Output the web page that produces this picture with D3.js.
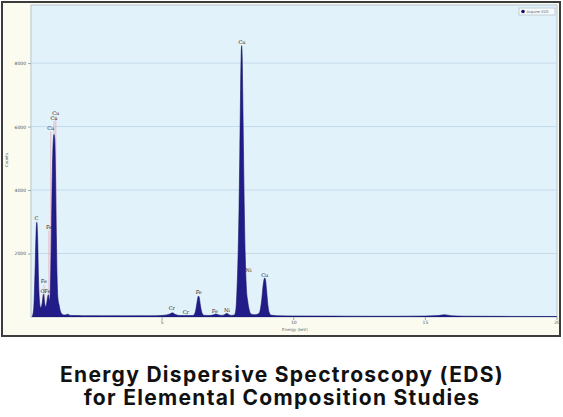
<!DOCTYPE html>
<html>
<head>
<meta charset="utf-8">
<script src="https://cdn.jsdelivr.net/npm/d3@7"></script>
<style>
  body { margin:0; background:#ffffff; }
  svg { display:block; }
</style>
</head>
<body>
<div id="chart-area"></div>
<script>
// spectrum (energy in keV, counts)
var energy = [0.08, 0.14, 0.19, 0.23, 0.26, 0.29, 0.32, 0.36, 0.40, 0.45, 0.49, 0.52, 0.55, 0.59, 0.63, 0.67, 0.70, 0.73, 0.76, 0.79, 0.82, 0.85, 0.88, 0.91, 0.94, 0.97, 1.00, 1.03, 1.06, 1.10, 1.15, 1.22, 1.32, 1.44, 1.52, 1.70, 2.00, 2.40, 2.80, 3.20, 3.60, 4.00, 4.40, 4.80, 5.10, 5.30, 5.41, 5.52, 5.70, 5.88, 5.95, 6.02, 6.20, 6.27, 6.33, 6.37, 6.40, 6.43, 6.47, 6.53, 6.60, 6.80, 6.98, 7.06, 7.14, 7.30, 7.42, 7.48, 7.54, 7.66, 7.76, 7.82, 7.86, 7.90, 7.94, 7.97, 8.00, 8.02, 8.04, 8.06, 8.08, 8.11, 8.14, 8.18, 8.22, 8.27, 8.32, 8.40, 8.55, 8.70, 8.76, 8.81, 8.85, 8.89, 8.92, 8.95, 8.99, 9.03, 9.08, 9.15, 9.40, 10.0, 11.0, 12.0, 13.0, 14.0, 15.0, 15.5, 15.75, 16.0, 16.5, 17.5, 18.5, 19.5, 20.0];
var counts = [0, 250, 1400, 2600, 2980, 2500, 1300, 500, 300, 380, 600, 720, 480, 320, 420, 620, 700, 520, 620, 1500, 3000, 4600, 5500, 5750, 5600, 4500, 2600, 1200, 600, 400, 200, 90, 60, 90, 50, 45, 40, 42, 38, 40, 36, 40, 38, 40, 55, 90, 130, 80, 45, 45, 55, 45, 50, 130, 380, 590, 660, 610, 380, 140, 55, 45, 70, 95, 70, 50, 90, 115, 80, 50, 60, 220, 800, 1800, 3400, 5200, 7200, 8200, 8550, 8200, 7100, 5200, 3400, 1800, 900, 500, 250, 90, 70, 110, 280, 600, 950, 1180, 1230, 1150, 800, 420, 160, 60, 40, 32, 30, 26, 24, 24, 30, 45, 70, 40, 26, 22, 18, 16, 15];

// peak labels: element, energy, counts
var labelEl = ["C", "Fe", "O", "Fe", "Fe", "Cu", "Cu", "Cu", "Cr", "Cr", "Fe", "Fe", "Ni", "Cu", "Ni", "Cu"];
var labelE  = [0.24, 0.53, 0.48, 0.66, 0.72, 0.79, 0.91, 0.98, 5.39, 5.92, 6.41, 7.02, 7.48, 8.05, 8.30, 8.92];
var labelC  = [3100, 1100, 800, 800, 2820, 5930, 6260, 6410, 270, 140, 770, 170, 200, 8650, 1460, 1300];
var markerIdx = [0, 1, 2, 3, 4, 5, 6, 7];

var yTicks = [2000, 4000, 6000, 8000];
var xTicks = [5, 10, 15, 20];

var W = 563, H = 417;
var plot = { left:31, right:557, top:5, bottom:317 };

var svg = d3.select("#chart-area").append("svg")
    .attr("width", W).attr("height", H);

// outer frame
svg.append("rect")
    .attr("x", 2).attr("y", 2).attr("width", 558).attr("height", 334)
    .attr("fill", "#fbfbf0").attr("stroke", "#3c3c3c").attr("stroke-width", 2);

var x = d3.scaleLinear().domain([0, 20]).range([30, 556.5]);
var y = d3.scaleLinear().domain([0, 9830]).range([plot.bottom, plot.top]);

svg.append("rect")
    .attr("x", plot.left).attr("y", plot.top)
    .attr("width", plot.right - plot.left).attr("height", plot.bottom - plot.top)
    .attr("fill", "#e2f2fb").attr("stroke", "#b4c6d2").attr("stroke-width", 1);

svg.append("clipPath").attr("id", "clip").append("rect")
    .attr("x", plot.left).attr("y", plot.top)
    .attr("width", plot.right - plot.left).attr("height", plot.bottom - plot.top);

// gridlines + y axis
var yAxis = svg.append("g")
    .attr("transform", "translate(" + plot.left + ",0)")
    .call(d3.axisLeft(y).tickValues(yTicks).tickFormat(d3.format("d")).tickSize(3).tickPadding(2));
yAxis.select(".domain").remove();
yAxis.selectAll("line").attr("stroke", "#9aa");
yAxis.selectAll("text").attr("font-size", "4.5px").attr("fill", "#555")
    .attr("font-family", "DejaVu Sans, sans-serif");

svg.append("g").selectAll("line").data(yTicks).enter().append("line")
    .attr("x1", plot.left).attr("x2", plot.right)
    .attr("y1", function(d){ return y(d); }).attr("y2", function(d){ return y(d); })
    .attr("stroke", "#c3dbea").attr("stroke-width", 1);

// x axis
var xAxis = svg.append("g")
    .attr("transform", "translate(0," + plot.bottom + ")")
    .call(d3.axisBottom(x).tickValues(xTicks).tickFormat(d3.format("d")).tickSize(3).tickPadding(1));
xAxis.select(".domain").remove();
xAxis.selectAll("line").attr("stroke", "#9aa");
xAxis.selectAll("text").attr("font-size", "4.5px").attr("fill", "#555")
    .attr("font-family", "DejaVu Sans, sans-serif");

svg.append("text")
    .attr("x", 295).attr("y", 331)
    .attr("text-anchor", "middle")
    .attr("font-size", "4px").attr("fill", "#666")
    .attr("font-family", "DejaVu Sans, sans-serif")
    .text("Energy (keV)");

svg.append("text")
    .attr("transform", "translate(8,160) rotate(-90)")
    .attr("text-anchor", "middle")
    .attr("font-size", "4px").attr("fill", "#666")
    .attr("font-family", "DejaVu Sans, sans-serif")
    .text("Counts");

// marker lines for the low-energy peaks
var gPlot = svg.append("g").attr("clip-path", "url(#clip)");

gPlot.selectAll(".marker").data(markerIdx).enter().append("line")
    .attr("class", "marker")
    .attr("x1", function(i){ return x(labelE[i]); })
    .attr("x2", function(i){ return x(labelE[i]); })
    .attr("y1", function(i){ return y(labelC[i]) + 3; })
    .attr("y2", plot.bottom)
    .attr("stroke", "#e7a6bd").attr("stroke-width", 0.8);

// spectrum
var spec = energy.map(function(e, i){ return { e:e, c:counts[i] }; });

var area = d3.area()
    .x(function(d){ return x(d.e); })
    .y0(y(0))
    .y1(function(d){ return y(d.c); })
    .curve(d3.curveMonotoneX);

gPlot.append("path")
    .attr("d", area(spec))
    .attr("fill", "#211c88")
    .attr("stroke", "#15126a")
    .attr("stroke-width", 0.6);

// peak labels
svg.append("g").selectAll("text").data(labelEl).enter().append("text")
    .attr("x", function(d, i){ return x(labelE[i]); })
    .attr("y", function(d, i){ return y(labelC[i]); })
    .attr("text-anchor", "middle")
    .attr("dominant-baseline", "middle")
    .attr("font-size", "5px")
    .attr("fill", "#222")
    .attr("font-family", "DejaVu Serif, serif")
    .text(function(d){ return d; });

// legend
var leg = svg.append("g");
leg.append("rect")
    .attr("x", 519).attr("y", 8).attr("width", 36).attr("height", 7)
    .attr("fill", "#f5f9fc").attr("stroke", "#a9b4bd").attr("stroke-width", 0.6);
leg.append("circle")
    .attr("cx", 523).attr("cy", 11.5).attr("r", 1.8).attr("fill", "#14125e");
leg.append("text")
    .attr("x", 526.5).attr("y", 11.6)
    .attr("dominant-baseline", "middle")
    .attr("font-size", "3.6px").attr("fill", "#666")
    .attr("font-family", "DejaVu Sans, sans-serif")
    .text("Acquire EDS");

// title
var title = svg.append("g")
    .attr("font-family", "Inter, sans-serif")
    .attr("font-weight", 700)
    .attr("font-size", "21px")
    .attr("letter-spacing", "1.3px")
    .attr("fill", "#111")
    .attr("text-anchor", "middle");
title.append("text").attr("x", 282).attr("y", 382)
    .text("Energy Dispersive Spectroscopy (EDS)");
title.append("text").attr("x", 282).attr("y", 405)
    .text("for Elemental Composition Studies");
</script>
</body>
</html>
